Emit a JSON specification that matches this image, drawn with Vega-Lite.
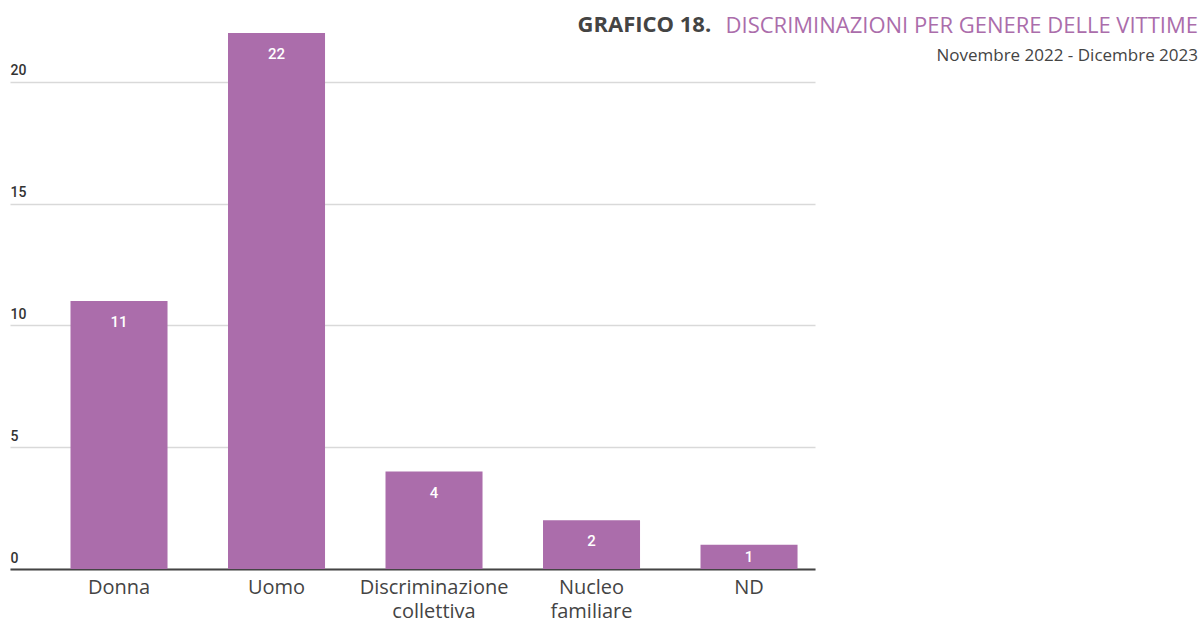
{
  "$schema": "https://vega.github.io/schema/vega-lite/v6.json",
  "autosize": {"type": "none"},
  "padding": {"left": 10, "top": 33, "right": 389, "bottom": 53},
  "width": 805,
  "height": 536,
  "background": "white",
  "title": {
    "text": "DISCRIMINAZIONI PER GENERE DELLE VITTIME",
    "subtitle": "Novembre 2022 - Dicembre 2023",
    "anchor": "end",
    "frame": "group",
    "orient": "top",
    "dx": 383,
    "dy": 56,
    "font": "Open Sans",
    "fontSize": 22,
    "fontWeight": "normal",
    "color": "#AB6DAB",
    "subtitleFont": "Open Sans",
    "subtitleFontSize": 17,
    "subtitleColor": "#444444",
    "subtitlePadding": 10
  },
  "data": {
    "values": [
      {"categoria": "Donna", "valore": 11},
      {"categoria": "Uomo", "valore": 22},
      {"categoria": "Discriminazione collettiva", "valore": 4},
      {"categoria": "Nucleo familiare", "valore": 2},
      {"categoria": "ND", "valore": 1}
    ]
  },
  "encoding": {
    "x": {
      "field": "categoria",
      "type": "nominal",
      "sort": null,
      "scale": {"paddingInner": 0.384, "paddingOuter": 0.2475, "align": 0.776},
      "axis": {
        "title": null,
        "labelAngle": 0,
        "labelExpr": "split(datum.label, ' ')",
        "labelFont": "Open Sans",
        "labelFontSize": 20,
        "labelColor": "#444444",
        "labelLineHeight": 24,
        "labelPadding": 8,
        "labelBaseline": "top",
        "ticks": false,
        "domain": true,
        "domainColor": "#444444",
        "domainWidth": 2,
        "grid": false
      }
    },
    "y": {
      "field": "valore",
      "type": "quantitative",
      "scale": {"domain": [0, 22], "nice": false},
      "axis": {
        "values": [0, 5, 10, 15, 20],
        "title": "GRAFICO 18.",
        "titleX": 567,
        "titleY": -2,
        "titleAngle": 0,
        "titleAlign": "left",
        "titleBaseline": "alphabetic",
        "titleFont": "Open Sans",
        "titleFontSize": 22,
        "titleFontWeight": "bold",
        "titleColor": "#444444",
        "labelAlign": "left",
        "labelBaseline": "bottom",
        "labelPadding": 0,
        "labelOffset": -4,
        "labelFont": "Roboto",
        "labelFontSize": 14,
        "labelFontWeight": 500,
        "labelColor": "#333333",
        "ticks": false,
        "domain": false,
        "grid": true,
        "gridColor": "#d9d9d9",
        "gridWidth": 1.5
      }
    }
  },
  "layer": [
    {"mark": {"type": "bar", "color": "#AB6DAB"}},
    {
      "transform": [{"filter": "datum.valore >= 2"}],
      "mark": {"type": "text", "color": "white", "font": "Roboto", "fontSize": 15, "fontWeight": 500, "baseline": "middle", "dy": 21},
      "encoding": {"text": {"field": "valore", "type": "quantitative"}}
    },
    {
      "transform": [{"filter": "datum.valore < 2"}],
      "mark": {"type": "text", "color": "white", "font": "Roboto", "fontSize": 15, "fontWeight": 500, "baseline": "middle", "dy": 12},
      "encoding": {"text": {"field": "valore", "type": "quantitative"}}
    }
  ],
  "config": {"view": {"stroke": null}}
}
